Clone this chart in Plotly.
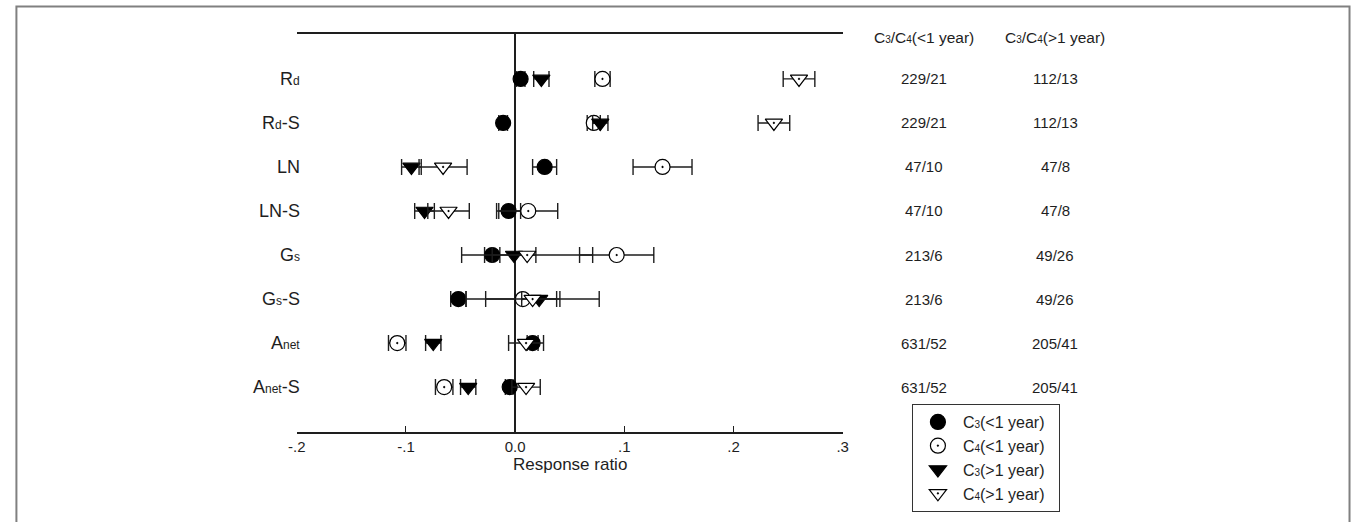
import plotly.graph_objects as go

W, H = 1357, 522


def sm(t, px=11):
    return f'<span style="font-size:{px}px">{t}</span>'


categories = ["R" + sm("d", 12), "R" + sm("d", 12) + "-S", "LN", "LN-S",
              "G" + sm("s", 12), "G" + sm("s", 12) + "-S",
              "A" + sm("net", 12), "A" + sm("net", 12) + "-S"]
row_pos = [8, 7, 6, 5, 4, 3, 2, 1]

c3_short = [0.005, -0.011, 0.027, -0.006, -0.021, -0.052, 0.016, -0.005]
c3_short_err = [0.004, 0.004, 0.011, 0.011, 0.007, 0.007, 0.005, 0.004]

c4_short = [0.080, 0.072, 0.135, 0.012, 0.093, 0.007, -0.108, -0.065]
c4_short_err = [0.007, 0.006, 0.027, 0.027, 0.034, 0.034, 0.008, 0.008]

c3_long = [0.024, 0.078, -0.095, -0.083, -0.001, 0.022, -0.075, -0.043]
c3_long_err = [0.007, 0.007, 0.009, 0.009, 0.020, 0.016, 0.007, 0.007]

c4_long = [0.260, 0.237, -0.066, -0.061, 0.011, 0.016, 0.010, 0.010]
c4_long_err = [0.0145, 0.0145, 0.022, 0.019, 0.060, 0.061, 0.016, 0.013]

n_short = ["229/21", "229/21", "47/10", "47/10", "213/6", "213/6", "631/52", "631/52"]
n_long = ["112/13", "112/13", "47/8", "47/8", "49/26", "49/26", "205/41", "205/41"]
header_short = "C" + sm("3", 10) + "/C" + sm("4", 10) + "(<1 year)"
header_long = "C" + sm("3", 10) + "/C" + sm("4", 10) + "(>1 year)"

x_ticks = [-0.2, -0.1, 0.0, 0.1, 0.2, 0.3]
x_ticktext = ["-.2", "-.1", "0.0", ".1", ".2", ".3"]

FONT = "Arial, Liberation Sans, sans-serif"
INK = "#1e1e1e"

series = [
    ("C" + sm("3", 10) + "(<1 year)&nbsp;&nbsp;", c3_short, c3_short_err, "circle", "black"),
    ("C" + sm("4", 10) + "(<1 year)&nbsp;&nbsp;", c4_short, c4_short_err, "circle-dot", "white"),
    ("C" + sm("3", 10) + "(>1 year)&nbsp;&nbsp;", c3_long, c3_long_err, "triangle-down", "black"),
    ("C" + sm("4", 10) + "(>1 year)&nbsp;&nbsp;", c4_long, c4_long_err, "triangle-down-dot", "white"),
]

fig = go.Figure()
for name, vals, errs, sym, col in series:
    fig.add_trace(go.Scatter(
        x=vals, y=row_pos, mode="markers", name=name,
        marker=dict(symbol=sym, size=15, color=col,
                    line=dict(color="black", width=1.2)),
        error_x=dict(type="data", array=errs, symmetric=True,
                     color=INK, thickness=1.4, width=8),
    ))

x0p, x1p = 291 / W, 843 / W
y0p, y1p = (H - 432) / H, (H - 34) / H

fig.update_layout(
    width=W, height=H,
    margin=dict(l=0, r=0, t=0, b=0),
    paper_bgcolor="white", plot_bgcolor="white",
    font=dict(family=FONT, size=15, color=INK),
    showlegend=True,
    legend=dict(x=913 / W, y=(H - 404) / H, xanchor="left", yanchor="top",
                bordercolor="#333", borderwidth=1, bgcolor="white",
                font=dict(size=16, family=FONT, color=INK),
                itemwidth=40, tracegroupgap=0),
    xaxis=dict(domain=[x0p, x1p], range=[-0.2, 0.3],
               tickvals=x_ticks, ticktext=x_ticktext,
               showline=True, linecolor=INK, linewidth=1.5, mirror=True,
               ticks="inside", ticklen=6, tickcolor=INK, tickwidth=1.2,
               showgrid=False, zeroline=True, zerolinecolor=INK, zerolinewidth=1.5,
               tickfont=dict(size=15, family=FONT, color=INK)),
    yaxis=dict(domain=[y0p, y1p], range=[-0.02, 9.02],
               showticklabels=False, showgrid=False, zeroline=False,
               showline=False, ticks=""),
)

ann = []
for lab, yv, a, b in zip(categories, row_pos, n_short, n_long):
    ann.append(dict(x=296 / W, xref="paper", y=yv, yref="y", text=lab,
                    xanchor="right", yanchor="middle", showarrow=False,
                    font=dict(size=18, family=FONT, color=INK)))
    ann.append(dict(x=925 / W, xref="paper", y=yv, yref="y", text=a,
                    xanchor="center", yanchor="middle", showarrow=False,
                    font=dict(size=15, family=FONT, color=INK)))
    ann.append(dict(x=1058 / W, xref="paper", y=yv, yref="y", text=b,
                    xanchor="center", yanchor="middle", showarrow=False,
                    font=dict(size=15, family=FONT, color=INK)))
ann.append(dict(x=925 / W, xref="paper", y=(H - 38) / H, yref="paper", text=header_short,
                xanchor="center", yanchor="middle", showarrow=False,
                font=dict(size=15.5, family=FONT, color=INK)))
ann.append(dict(x=1058 / W, xref="paper", y=(H - 38) / H, yref="paper", text=header_long,
                xanchor="center", yanchor="middle", showarrow=False,
                font=dict(size=15.5, family=FONT, color=INK)))
ann.append(dict(x=0.05, xref="x", y=(H - 464) / H, yref="paper", text="Response ratio",
                xanchor="center", yanchor="middle", showarrow=False,
                font=dict(size=17, family=FONT, color=INK)))
fig.update_layout(annotations=ann)

fig.add_shape(type="rect", xref="paper", yref="paper",
              x0=7.5 / W, x1=1355.5 / W, y0=-0.05, y1=(H - 6.5) / H,
              line=dict(color="#808080", width=2), fillcolor="rgba(0,0,0,0)")

fig.write_html("out.html")
